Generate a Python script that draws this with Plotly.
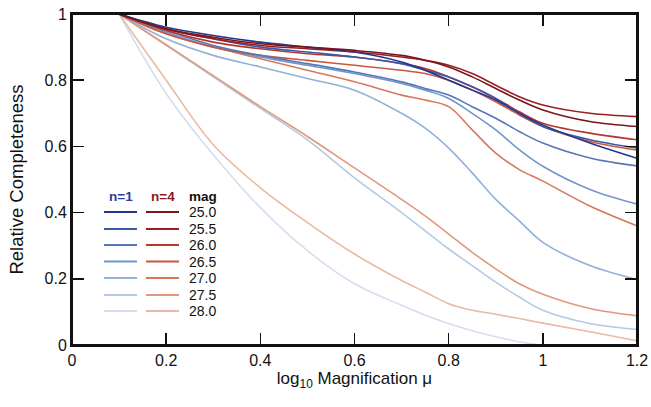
import plotly.graph_objects as go

x_vals = [0.1, 0.2, 0.3, 0.4, 0.5, 0.6, 0.7, 0.75, 0.8, 0.85, 0.9, 0.95, 1.0, 1.1, 1.2]

mags = ["25.0", "25.5", "26.0", "26.5", "27.0", "27.5", "28.0"]

n1_250 = [1, 0.96, 0.935, 0.915, 0.90, 0.885, 0.855, 0.83, 0.80, 0.77, 0.74, 0.70, 0.665, 0.61, 0.564]
n1_255 = [1, 0.955, 0.925, 0.90, 0.885, 0.87, 0.85, 0.83, 0.81, 0.78, 0.745, 0.70, 0.66, 0.62, 0.595]
n1_260 = [1, 0.95, 0.905, 0.875, 0.85, 0.825, 0.795, 0.775, 0.755, 0.72, 0.685, 0.645, 0.61, 0.565, 0.541]
n1_265 = [1, 0.945, 0.90, 0.87, 0.845, 0.82, 0.79, 0.77, 0.745, 0.70, 0.65, 0.59, 0.54, 0.47, 0.426]
n1_270 = [1, 0.925, 0.875, 0.84, 0.805, 0.77, 0.70, 0.655, 0.595, 0.52, 0.44, 0.375, 0.31, 0.24, 0.198]
n1_275 = [1, 0.905, 0.81, 0.715, 0.62, 0.505, 0.40, 0.345, 0.29, 0.24, 0.19, 0.145, 0.105, 0.065, 0.047]
n1_280 = [1, 0.76, 0.575, 0.415, 0.285, 0.185, 0.12, 0.09, 0.065, 0.043, 0.025, 0.01, 0.0, 0.0, 0.0]

n4_250 = [1, 0.955, 0.93, 0.91, 0.90, 0.89, 0.875, 0.86, 0.84, 0.81, 0.775, 0.74, 0.71, 0.675, 0.66]
n4_255 = [1, 0.955, 0.925, 0.905, 0.895, 0.885, 0.87, 0.86, 0.845, 0.82, 0.785, 0.75, 0.725, 0.70, 0.69]
n4_260 = [1, 0.95, 0.915, 0.895, 0.88, 0.87, 0.85, 0.835, 0.81, 0.78, 0.745, 0.705, 0.67, 0.64, 0.62]
n4_265 = [1, 0.94, 0.90, 0.875, 0.86, 0.845, 0.83, 0.82, 0.80, 0.77, 0.735, 0.695, 0.66, 0.615, 0.589]
n4_270 = [1, 0.94, 0.90, 0.865, 0.83, 0.795, 0.755, 0.74, 0.72, 0.65, 0.58, 0.53, 0.495, 0.42, 0.36]
n4_275 = [1, 0.907, 0.814, 0.72, 0.63, 0.535, 0.44, 0.39, 0.335, 0.28, 0.23, 0.185, 0.153, 0.11, 0.088]
n4_280 = [1, 0.80, 0.605, 0.475, 0.37, 0.275, 0.195, 0.16, 0.125, 0.105, 0.093, 0.08, 0.066, 0.04, 0.013]

n1_series = [n1_250, n1_255, n1_260, n1_265, n1_270, n1_275, n1_280]
n4_series = [n4_250, n4_255, n4_260, n4_265, n4_270, n4_275, n4_280]

n1_colors = ["#26358c", "#3c58a6", "#5577ba", "#7196c8", "#93b1d6", "#b4c9e4", "#d3def0"]
n4_colors = ["#7a1619", "#9a1e22", "#b5382e", "#c9573f", "#d8785a", "#e1987c", "#eab9a1"]

x_ticks = [0, 0.2, 0.4, 0.6, 0.8, 1.0, 1.2]
x_ticklabels = ["0", "0.2", "0.4", "0.6", "0.8", "1", "1.2"]
y_ticks = [0, 0.2, 0.4, 0.6, 0.8, 1.0]
y_ticklabels = ["0", "0.2", "0.4", "0.6", "0.8", "1"]

FONT = "Liberation Sans, Arial, Helvetica, sans-serif"

FIG_W, FIG_H = 651, 407
M_L, M_R, M_T, M_B = 72, 14, 14, 62
W_PLOT = FIG_W - M_L - M_R
H_PLOT = FIG_H - M_T - M_B

fig = go.Figure()

for i in reversed(range(7)):
    fig.add_trace(go.Scatter(x=x_vals, y=n1_series[i], mode="lines",
                             line=dict(color=n1_colors[i], width=1.6, shape="spline", smoothing=1.0),
                             showlegend=False, hoverinfo="skip"))
    fig.add_trace(go.Scatter(x=x_vals, y=n4_series[i], mode="lines",
                             line=dict(color=n4_colors[i], width=1.6, shape="spline", smoothing=1.0),
                             showlegend=False, hoverinfo="skip"))

# empty trace so the top/right tick axes are rendered
fig.add_trace(go.Scatter(x=[], y=[], xaxis="x2", yaxis="y2", showlegend=False, hoverinfo="skip"))


def px(xp):
    return (xp - M_L) / W_PLOT


def py(yp):
    return (M_T + H_PLOT - yp) / H_PLOT


shapes = [dict(type="rect", xref="paper", yref="paper", x0=0, x1=1, y0=0, y1=1,
               line=dict(color="#111111", width=2), fillcolor="rgba(0,0,0,0)", layer="above")]
annotations = []
row_y = [212, 229, 245, 261.5, 278, 295, 311]
for i in range(7):
    shapes.append(dict(type="line", xref="paper", yref="paper",
                       x0=px(104), x1=px(137), y0=py(row_y[i]), y1=py(row_y[i]),
                       line=dict(color=n1_colors[i], width=2)))
    shapes.append(dict(type="line", xref="paper", yref="paper",
                       x0=px(146), x1=px(179), y0=py(row_y[i]), y1=py(row_y[i]),
                       line=dict(color=n4_colors[i], width=2)))
    annotations.append(dict(xref="paper", yref="paper", x=px(187), y=py(row_y[i]),
                            text=mags[i], showarrow=False, xanchor="left", yanchor="middle",
                            font=dict(family=FONT, size=14, color="#111111")))

annotations.append(dict(xref="paper", yref="paper", x=px(121), y=py(196.5), text="<b>n=1</b>",
                        showarrow=False, xanchor="center", yanchor="middle",
                        font=dict(family=FONT, size=13.5, color="#2c3e8f")))
annotations.append(dict(xref="paper", yref="paper", x=px(163), y=py(196.5), text="<b>n=4</b>",
                        showarrow=False, xanchor="center", yanchor="middle",
                        font=dict(family=FONT, size=13.5, color="#8b1a1e")))
annotations.append(dict(xref="paper", yref="paper", x=px(187), y=py(196.5), text="<b>mag</b>",
                        showarrow=False, xanchor="left", yanchor="middle",
                        font=dict(family=FONT, size=13.5, color="#111111")))

tick_common = dict(ticks="inside", ticklen=12, tickwidth=1.5, tickcolor="#111111",
                   showline=True, linecolor="#111111", linewidth=2,
                   showgrid=False, zeroline=False, automargin=False)

fig.update_layout(
    width=FIG_W, height=FIG_H,
    margin=dict(l=M_L, r=M_R, t=M_T, b=M_B),
    paper_bgcolor="white", plot_bgcolor="white",
    shapes=shapes, annotations=annotations,
    font=dict(family=FONT, size=16, color="#111111"),
    xaxis=dict(range=[0, 1.2], tickvals=x_ticks, ticktext=x_ticklabels, mirror="ticks",
               ticklabeloverflow="allow",
               title=dict(text="log<sub>10</sub> Magnification μ", font=dict(size=17), standoff=4),
               tickfont=dict(size=16), **tick_common),
    yaxis=dict(range=[0, 1], tickvals=y_ticks, ticktext=y_ticklabels, mirror="ticks",
               ticklabeloverflow="allow",
               title=dict(text="Relative Completeness", font=dict(size=18.5), standoff=16),
               tickfont=dict(size=16), **tick_common),
    xaxis2=dict(range=[0, 1.2], tickvals=x_ticks, overlaying="x", side="top", anchor="y",
                showticklabels=False, **tick_common),
    yaxis2=dict(range=[0, 1], tickvals=y_ticks, overlaying="y", side="right", anchor="x",
                showticklabels=False, **tick_common),
)

fig.write_html("out.html",
               config={"displayModeBar": False, "staticPlot": True},
               post_script="document.body.style.margin='0';document.body.style.overflow='hidden';")
